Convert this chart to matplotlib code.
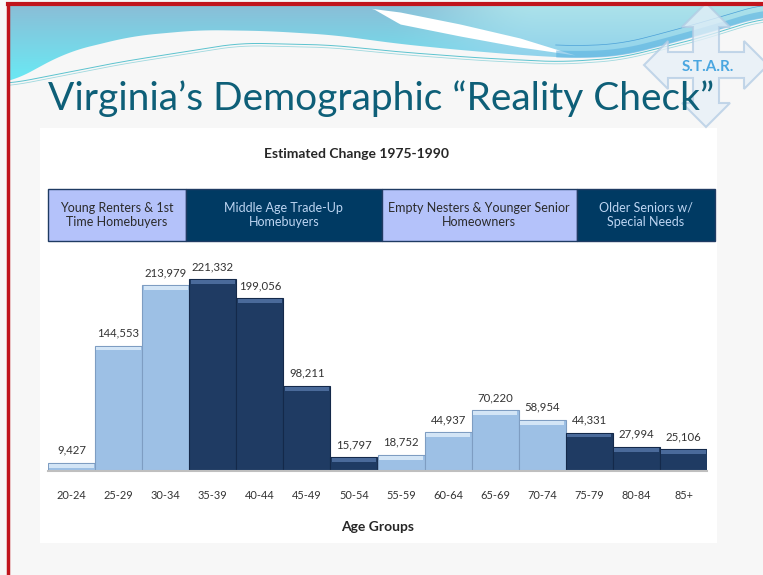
import matplotlib.pyplot as plt
import numpy as np
from matplotlib.patches import Rectangle, Polygon

plt.rcParams["font.family"] = ["Lato", "DejaVu Sans"]

# data
age_groups = ["20-24", "25-29", "30-34", "35-39", "40-44", "45-49", "50-54",
              "55-59", "60-64", "65-69", "70-74", "75-79", "80-84", "85+"]
change = [9427, 144553, 213979, 221332, 199056, 98211, 15797,
          18752, 44937, 70220, 58954, 44331, 27994, 25106]
is_dark = [0, 0, 0, 1, 1, 1, 1, 0, 0, 0, 0, 1, 1, 1]

segment_labels = ["Young Renters & 1st\nTime Homebuyers",
                  "Middle Age Trade-Up\nHomebuyers",
                  "Empty Nesters & Younger Senior\nHomeowners",
                  "Older Seniors w/\nSpecial Needs"]
segment_edges = [-0.5, 2.43, 6.59, 10.73, 13.66]
segment_dark = [0, 1, 0, 1]

W, H = 763, 575
fig = plt.figure(figsize=(W / 100, H / 100), dpi=100)
fig.patch.set_facecolor("#f7f7f7")

# background decoration, in pixel coords
bg = fig.add_axes([0, 0, 1, 1])
bg.set_xlim(0, W)
bg.set_ylim(H, 0)
bg.axis("off")


def smooth_curve(kx, ky, xs, n=15):
    y = np.interp(xs, kx, ky)
    return np.convolve(np.pad(y, n, mode="edge"), np.ones(2 * n + 1) / (2 * n + 1), mode="valid")


# swoosh band: gradient image clipped to the band outline
xs = np.linspace(8, W, 500)
lower = smooth_curve([8, 67, 133, 200, 267, 333, 400, 460, 520, 573, 620, 660, 710, 763],
                     [84, 52, 36, 30, 31, 35, 44, 50, 55, 58, 56, 46, 32, 16], xs)
gx, gy = np.meshgrid(np.linspace(0, W, 200), np.linspace(0, 90, 60))
t = np.clip((gy - 5) / 70, 0, 1)[..., None]
left_c = np.array([138, 190, 215]) * (1 - t) + np.array([108, 230, 242]) * t
right_c = np.array([172, 226, 234]) * (1 - t) + np.array([135, 205, 236]) * t
s = np.clip((gx - 380) / 160, 0, 1)
s = (s * s * (3 - 2 * s))[..., None]
img = (left_c * (1 - s) + right_c * s) / 255
im = bg.imshow(img, extent=(0, W, 90, 0), aspect="auto", zorder=1, interpolation="bilinear")
band = Polygon(np.column_stack([np.r_[xs, xs[::-1]], np.r_[np.full_like(xs, 5), lower[::-1]]]),
               closed=True, facecolor="none", edgecolor="none")
bg.add_patch(band)
im.set_clip_path(band)
bg.set_xlim(0, W)
bg.set_ylim(H, 0)

# white wedge cutting through the band
wx = np.linspace(345, 575, 80)
w_top = np.interp(wx, [345, 400, 460, 520, 575], [5, 12, 24, 38, 55])
w_bot = np.interp(wx, [345, 372, 400, 460, 520, 575], [5, 8, 24, 36, 47, 55])
w_bot = np.maximum(w_bot, w_top)
bg.fill_between(wx, w_top, w_bot, color="white", zorder=2, lw=0)

# darker blue ribbon and thin lines on the right
r = xs > 555
bg.fill_between(xs[r], lower[r] - 7, lower[r], color="#57b0e0", alpha=0.55, zorder=2, lw=0)
line1 = smooth_curve([8, 120, 240, 330, 400, 480, 560, 620, 700, 763],
                     [84, 62, 43, 45, 52, 58, 62, 58, 38, 18], xs)
bg.plot(xs, line1, color="#5cc3cf", lw=0.7, zorder=2)
bg.plot(xs, line1 + 2.5, color="#9fd9df", lw=0.6, zorder=2)
bg.plot(xs[r], lower[r] - 12, color="#4aa0d8", lw=0.5, zorder=2)

# S.T.A.R. logo arrows
cx, cy = 706, 65
arm, half, head = 62, 13, 24
pts = [(cx - half, cy - half), (cx - half, cy - arm + head), (cx - head, cy - arm + head),
       (cx, cy - arm), (cx + head, cy - arm + head), (cx + half, cy - arm + head),
       (cx + half, cy - half), (cx + arm - head, cy - half), (cx + arm - head, cy - head),
       (cx + arm, cy), (cx + arm - head, cy + head), (cx + arm - head, cy + half),
       (cx + half, cy + half), (cx + half, cy + arm - head), (cx + head, cy + arm - head),
       (cx, cy + arm), (cx - head, cy + arm - head), (cx - half, cy + arm - head),
       (cx - half, cy + half), (cx - arm + head, cy + half), (cx - arm + head, cy + head),
       (cx - arm, cy), (cx - arm + head, cy - head), (cx - arm + head, cy - half)]
bg.add_patch(Polygon(pts, closed=True, facecolor="#e6f0f8", edgecolor="#b2cbe3",
                     lw=1.5, alpha=0.75, zorder=3))
bg.text(cx + 2, cy + 2, "S.T.A.R.", ha="center", va="center", fontsize=11,
        fontweight="bold", color="#4aa6e0", zorder=4)

# red border on top and left
bg.plot([8, 8], [4, H], color="#c0141c", lw=2.5, zorder=5)
bg.plot([8, W], [4, 4], color="#c0141c", lw=3, zorder=5)

# white chart panel
bg.add_patch(Rectangle((40, 128), 677, 415, facecolor="white", edgecolor="none", zorder=1))

fig.text(48 / W, 1 - 99 / H, "Virginia\u2019s Demographic \u201cReality Check\u201d",
         fontsize=28, color="#0e5f78", ha="left", va="center", zorder=6)
fig.text(357 / W, 1 - 154 / H, "Estimated Change 1975-1990", fontsize=10,
         fontweight="bold", color="#262626", ha="center", va="center")

# main bar chart
x0, x1, ybase, ytop = 48, 707, 471, 189
ax = fig.add_axes([x0 / W, 1 - ybase / H, (x1 - x0) / W, (ybase - ytop) / H])
ax.patch.set_alpha(0)
ymax = (ybase - ytop) * 221332 / 192
ax.set_xlim(-0.5, len(age_groups) - 0.5)
ax.set_ylim(0, ymax)

light, dark = "#9dc0e5", "#1f3b63"
colors = [dark if d else light for d in is_dark]
edges = ["#14294a" if d else "#7e9dc2" for d in is_dark]
bars = ax.bar(range(len(age_groups)), change, width=1.0, color=colors,
              edgecolor=edges, linewidth=0.8, zorder=2)

# bevel highlight along each bar top
bev = ymax * 0.017
for b, d in zip(bars, is_dark):
    hl = "#4a6a9a" if d else "#d3e5f6"
    ax.add_patch(Rectangle((b.get_x() + 0.03, b.get_height() - bev),
                           b.get_width() - 0.06, bev * 0.8,
                           facecolor=hl, edgecolor="none", zorder=3))

for i, v in enumerate(change):
    ax.text(i, v + ymax * 0.025, f"{v:,}", ha="center", va="bottom",
            fontsize=8.2, color="#333333")

ax.set_xticks(range(len(age_groups)))
ax.set_xticklabels(age_groups, fontsize=7.9, color="#333333")
ax.tick_params(axis="x", length=0, pad=14)
ax.set_yticks([])
for s_ in ["top", "right", "left"]:
    ax.spines[s_].set_visible(False)
ax.spines["bottom"].set_color("#bfbfbf")
ax.spines["bottom"].set_linewidth(1.5)
ax.set_xlabel("Age Groups", fontsize=10, fontweight="bold", color="#262626",
              labelpad=14)

# segment boxes across the top of the plot
trans = ax.get_xaxis_transform()
box_bottom = (ybase - 241) / (ybase - ytop)
for lab, a, b, d in zip(segment_labels, segment_edges[:-1], segment_edges[1:], segment_dark):
    ax.add_patch(Rectangle((a, box_bottom), b - a, 1 - box_bottom, transform=trans,
                           facecolor="#003a63" if d else "#b4c2fa",
                           edgecolor="#1f3b63", lw=1, clip_on=False, zorder=4))
    ax.text((a + b) / 2, (box_bottom + 1) / 2, lab, transform=trans,
            ha="center", va="center", fontsize=9, linespacing=1.2,
            color="#bdd5f2" if d else "#2b2b2b", zorder=5)

fig.savefig("out.png", dpi=100, facecolor=fig.get_facecolor())
